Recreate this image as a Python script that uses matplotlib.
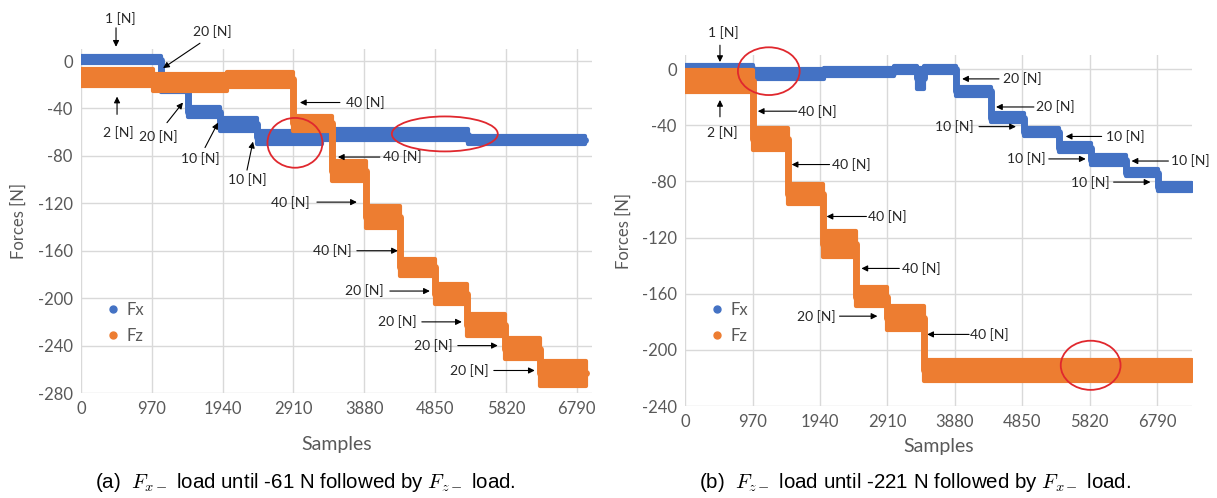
import numpy as np
import matplotlib
matplotlib.use("Agg")
import matplotlib.pyplot as plt
from matplotlib.patches import Ellipse
from matplotlib.lines import Line2D

plt.rcParams['font.family'] = ['Lato', 'DejaVu Sans']
plt.rcParams['mathtext.fontset'] = 'cm'
plt.rcParams['axes.unicode_minus'] = False

BLUE = "#4472C4"
ORANGE = "#ED7D31"
RED = "#E0282E"
GRID = "#D9D9D9"
TICK = "#595959"

xticks = [0, 970, 1940, 2910, 3880, 4850, 5820, 6790]

# ---- (a) Fx- load then Fz- load : step levels (band low / high) ----
a_fx_edges = [0, 1095, 1465, 1903, 2409, 3300, 5300, 6900]
a_fx_lo = [-2, -26, -47, -59, -70, -67, -70]
a_fx_hi = [4, -21, -39, -48, -59, -57, -63]

a_fz_edges = [0, 990, 2000, 2902, 3436, 3902, 4367, 4846, 5284, 5805, 6284, 6913]
a_fz_lo = [-21, -25, -22, -59, -101, -141, -181, -205, -232, -251, -274]
a_fz_hi = [-7, -11, -9, -46, -84, -122, -167, -188, -213, -234, -253]

# ---- (b) Fz- load then Fx- load ----
b_fx_edges = [0, 974, 2000, 3000, 3340, 3440, 3898, 4399, 4872, 5374, 5832, 6334, 6807, 7290]
b_fx_lo = [-2.5, -7, -5, -2.5, -14, -2.5, -19, -37.5, -47.5, -59, -68, -76.5, -87]
b_fx_hi = [3, 0, 1, 2, 1, 2, -12.5, -31.5, -42, -53, -61.5, -71, -81.5]

b_fz_edges = [0, 974, 1476, 1978, 2465, 2909, 3439, 7290]
b_fz_lo = [-16, -58, -96, -134, -169, -186, -222]
b_fz_hi = [-1, -42, -82, -115, -155, -169, -207]

# annotations: label, text position, arrow tail, arrow head (data coords)
a_notes = [
    ("1 [N]", (534, 36), (479, 28), (479, 12)),
    ("2 [N]", (507, -60), (493, -45), (493, -30)),
    ("20 [N]", (1793, 24.5), (1629, 15), (1123, -6)),
    ("20 [N]", (1054, -64), (1177, -52), (1396, -35)),
    ("10 [N]", (1629, -82), (1698, -73), (1876, -52)),
    ("10 [N]", (2273, -100), (2273, -92), (2355, -68)),
    ("40 [N]", (3888, -35), (3546, -35), (2998, -35)),
    ("40 [N]", (4394, -81), (4093, -81), (3518, -81)),
    ("40 [N]", (2861, -119), (3231, -119), (3778, -119)),
    ("40 [N]", (3436, -160), (3778, -160), (4340, -160)),
    ("20 [N]", (3874, -194), (4230, -194), (4778, -194)),
    ("20 [N]", (4326, -220), (4668, -220), (5216, -220)),
    ("20 [N]", (4819, -240), (5161, -240), (5709, -240)),
    ("20 [N]", (5312, -261), (5654, -261), (6215, -261)),
]
b_notes = [
    ("1 [N]", (545, 26), (502, 17), (502, 5)),
    ("2 [N]", (530, -45), (502, -34), (502, -22)),
    ("40 [N]", (1906, -30), (1605, -30), (1046, -30)),
    ("40 [N]", (2393, -68), (2078, -68), (1533, -68)),
    ("40 [N]", (2909, -105), (2608, -105), (2035, -105)),
    ("40 [N]", (3396, -142), (3081, -142), (2536, -142)),
    ("20 [N]", (1892, -176), (2221, -176), (2766, -176)),
    ("40 [N]", (4371, -189), (4084, -189), (3482, -189)),
    ("20 [N]", (4844, -7), (4514, -7), (3984, -7)),
    ("20 [N]", (5331, -27), (5016, -27), (4471, -27)),
    ("10 [N]", (3869, -41), (4227, -41), (4758, -41)),
    ("10 [N]", (6334, -48), (5990, -48), (5474, -48)),
    ("10 [N]", (4901, -64), (5230, -64), (5761, -64)),
    ("10 [N]", (7265, -65.5), (6950, -65.5), (6420, -65.5)),
    ("10 [N]", (5832, -80.5), (6162, -80.5), (6692, -80.5)),
]
# red ellipses: center, width, height (data units)
a_rings = [((2930, -69), 753, 42), ((4983, -61.5), 1451, 29.5)]
b_rings = [((1204, -1.5), 888, 34), ((5832, -211), 860, 35)]


def draw_band(ax, edges, lo, hi, color):
    lo = np.array(lo, float)
    hi = np.array(hi, float)
    mid = (lo + hi) / 2
    ax.fill_between(edges, np.r_[lo, lo[-1]], np.r_[hi, hi[-1]], step="post",
                    color=color, lw=3, edgecolor=color, joinstyle="round", zorder=3)
    ax.step(edges, np.r_[mid, mid[-1]], where="post", color=color, lw=5,
            solid_joinstyle="round", solid_capstyle="round", zorder=3)


def setup(ax, xmax, ymin, yticks):
    ax.set_xlim(0, xmax)
    ax.set_ylim(ymin, 10)
    ax.set_xticks(xticks)
    ax.set_yticks(yticks)
    ax.grid(True, color=GRID, lw=1)
    ax.set_axisbelow(True)
    for s in ax.spines.values():
        s.set_visible(False)
    ax.tick_params(length=0, labelsize=12, colors=TICK, pad=6)
    ax.set_xlabel("Samples", fontsize=14, color=TICK)
    ax.set_ylabel("Forces [N]", fontsize=12, color=TICK)


def annotate(ax, notes, rings):
    for label, txt, tail, head in notes:
        ax.annotate("", xy=head, xytext=tail, annotation_clip=False,
                    arrowprops=dict(arrowstyle="-|>", color="black", lw=0.8,
                                    mutation_scale=9, shrinkA=0, shrinkB=0))
        ax.text(txt[0], txt[1], label, ha="center", va="center", fontsize=10,
                color="#262626", clip_on=False, zorder=5)
    for c, w, h in rings:
        ax.add_patch(Ellipse(c, w, h, fill=False, edgecolor=RED, lw=1.3,
                             zorder=6, clip_on=False))


fig = plt.figure(figsize=(12.17, 4.98), dpi=100)
axa = fig.add_axes([0.0666, 0.2108, 0.4199, 0.6905])
axb = fig.add_axes([0.5629, 0.1847, 0.4166, 0.7048])

setup(axa, 7000, -280, [0, -40, -80, -120, -160, -200, -240, -280])
draw_band(axa, a_fx_edges, a_fx_lo, a_fx_hi, BLUE)
draw_band(axa, a_fz_edges, a_fz_lo, a_fz_hi, ORANGE)
annotate(axa, a_notes, a_rings)
axa.xaxis.set_label_coords(0.5, -0.125)
axa.yaxis.set_label_coords(-0.106, 0.5)

setup(axb, 7290, -240, [0, -40, -80, -120, -160, -200, -240])
draw_band(axb, b_fx_edges, b_fx_lo, b_fx_hi, BLUE)
draw_band(axb, b_fz_edges, b_fz_lo, b_fz_hi, ORANGE)
annotate(axb, b_notes, b_rings)
axb.xaxis.set_label_coords(0.5, -0.091)
axb.yaxis.set_label_coords(-0.105, 0.5)

handles = [Line2D([], [], ls="", marker="o", ms=5, color=BLUE, label="Fx"),
           Line2D([], [], ls="", marker="o", ms=5, color=ORANGE, label="Fz")]
for ax, pos in [(axa, (0.03, 0.29)), (axb, (0.03, 0.32))]:
    leg = ax.legend(handles=handles, loc="upper left", bbox_to_anchor=pos,
                    frameon=False, fontsize=12, handletextpad=0.3,
                    labelspacing=0.6, borderpad=0, handlelength=1)
    for t in leg.get_texts():
        t.set_color(TICK)

cap_font = ['Liberation Sans', 'DejaVu Sans']
fig.text(305 / 1217, 1 - 482 / 498,
         r"(a)  $F_{x-}$ load until -61 N followed by $F_{z-}$ load.",
         ha="center", va="center", fontsize=14.8, family=cap_font)
fig.text(915 / 1217, 1 - 482 / 498,
         r"(b)  $F_{z-}$ load until -221 N followed by $F_{x-}$ load.",
         ha="center", va="center", fontsize=14.8, family=cap_font)

fig.savefig("out.png", dpi=100)
